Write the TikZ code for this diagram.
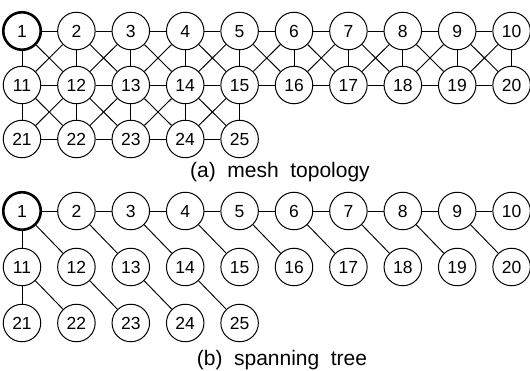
\documentclass[tikz,border=0pt]{standalone}
\usepackage{fontspec}
\setmainfont{Liberation Sans}
\begin{document}
\begin{tikzpicture}[x=1pt,y=1pt,
  nd/.style={circle, draw, fill=white, line width=1pt, minimum size=37.5pt, inner sep=0pt,
             text height=12.5pt, text depth=0pt, font=\fontsize{17.5}{17.5}\selectfont},
  root/.style={nd, line width=2.6pt},
  ed/.style={line width=0.95pt},
  captxt/.style={font=\fontsize{21}{21}\selectfont, inner sep=0pt}
]
\useasboundingbox (0,0) rectangle (530,370);
% ---------- (a) mesh topology ----------
\foreach \r/\yy/\nc in {0/339/9,1/285/9,2/231/4} {
  \foreach \c in {0,...,\nc} {
    \pgfmathtruncatemacro\n{10*\r+\c+1}
    \ifnum\n=1
      \node[root] (m\n) at ({22+54.4*\c},\yy) {\n};
    \else
      \node[nd] (m\n) at ({22+54.4*\c},\yy) {\n};
    \fi
  }
}
% horizontal edges
\foreach \r/\nc in {0/8,1/8,2/3} {
  \foreach \c in {0,...,\nc} {
    \pgfmathtruncatemacro\a{10*\r+\c+1}
    \pgfmathtruncatemacro\b{10*\r+\c+2}
    \draw[ed] (m\a) -- (m\b);
  }
}
% vertical edges
\foreach \r/\nc in {0/9,1/4} {
  \foreach \c in {0,...,\nc} {
    \pgfmathtruncatemacro\a{10*\r+\c+1}
    \pgfmathtruncatemacro\b{10*\r+\c+11}
    \draw[ed] (m\a) -- (m\b);
  }
}
% diagonal edges
\foreach \r/\nc in {0/8,1/3} {
  \foreach \c in {0,...,\nc} {
    \pgfmathtruncatemacro\a{10*\r+\c+1}
    \pgfmathtruncatemacro\b{10*\r+\c+12}
    \pgfmathtruncatemacro\p{10*\r+\c+2}
    \pgfmathtruncatemacro\q{10*\r+\c+11}
    \draw[ed] (m\a) -- (m\b);
    \draw[ed] (m\p) -- (m\q);
  }
}
\node[captxt, anchor=base] (capa) at (280,192) {(a)\hspace{0.55em}mesh\hspace{0.55em}topology};
% ---------- (b) spanning tree ----------
\foreach \r/\yy/\nc in {0/159/9,1/103/9,2/47/4} {
  \foreach \c in {0,...,\nc} {
    \pgfmathtruncatemacro\n{10*\r+\c+1}
    \ifnum\n=1
      \node[root] (t\n) at ({22+54.4*\c},\yy) {\n};
    \else
      \node[nd] (t\n) at ({22+54.4*\c},\yy) {\n};
    \fi
  }
}
\foreach \a/\b in {1/2,2/3,3/4,4/5,5/6,6/7,7/8,8/9,9/10,
                   1/11,1/12,2/13,3/14,4/15,5/16,6/17,7/18,8/19,9/20,
                   11/21,11/22,12/23,13/24,14/25} {
  \draw[ed] (t\a) -- (t\b);
}
\node[captxt, anchor=base] (capb) at (282,5) {(b)\hspace{0.55em}spanning\hspace{0.55em}tree};
\end{tikzpicture}
\end{document}
